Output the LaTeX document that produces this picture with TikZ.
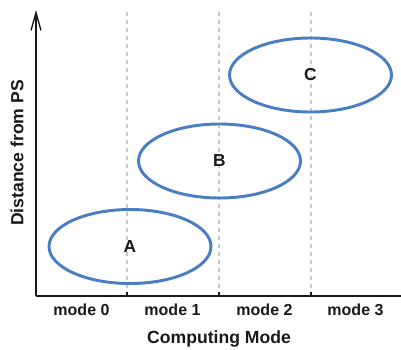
\documentclass[tikz,border=0pt]{standalone}
\usepackage{fontspec}
\setmainfont{Liberation Sans}
\usetikzlibrary{shapes.geometric,arrows.meta}
\definecolor{ellblue}{RGB}{74,126,194}
\definecolor{gridgray}{RGB}{200,200,200}
\begin{document}
\begin{tikzpicture}[x=0.75pt,y=-0.75pt,
  axisline/.style={line width=1.3pt,black!90},
  gridline/.style={gridgray,line width=0.8pt,dash pattern=on 3pt off 3pt},
  region/.style={ellipse,draw=ellblue,line width=2.2pt,minimum width=121.5pt,minimum height=55.5pt,inner sep=0pt,
     font=\fontsize{13}{15}\selectfont\bfseries,text=black!90},
  ticklab/.style={font=\fontsize{12}{14}\selectfont\bfseries,text=black!90},
  axlab/.style={font=\fontsize{13.2}{15}\selectfont\bfseries,text=black!90}]
\useasboundingbox (0,0) rectangle (401,350);
\coordinate (O) at (36,296);
\coordinate (top) at (36,10);
\coordinate (right) at (401,296);
\foreach \i/\x in {1/127,2/219,3/311}{
  \coordinate (g\i) at (\x,12);
  \coordinate (b\i) at (\x,296);
  \coordinate (t\i) at (\x,292);
  \draw[gridline] (g\i) -- (b\i);
  \draw[axisline] (t\i) -- (b\i);
}
\draw[axisline,-{Straight Barb[length=13.5pt,width=7.5pt,line width=1pt]}] (O) -- (top);
\draw[axisline] (O) -- (right);
\node[region] (A) at (130,246.5) {A};
\node[region] (B) at (219.5,161) {B};
\node[region] (C) at (310.5,75) {C};
\node[ticklab] (m0) at (81.5,310) {mode 0};
\node[ticklab] (m1) at (172.5,310) {mode 1};
\node[ticklab] (m2) at (264.5,310) {mode 2};
\node[ticklab] (m3) at (355.5,310) {mode 3};
\node[axlab] (xl) at (219,339) {Computing Mode};
\node[axlab,rotate=90] (yl) at (17,153) {Distance from PS};
\end{tikzpicture}
\end{document}
